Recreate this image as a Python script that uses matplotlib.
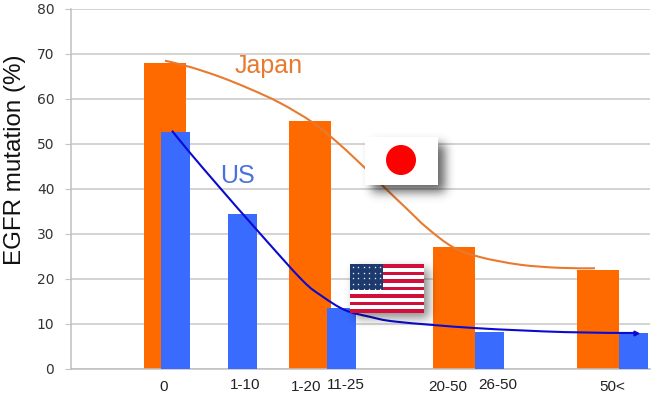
import numpy as np
import matplotlib
matplotlib.use('Agg')
import matplotlib.pyplot as plt
from matplotlib.path import Path
from matplotlib.patches import PathPatch, Rectangle, Circle

plt.rcParams['font.family'] = ['Liberation Sans', 'DejaVu Sans']

# values
japan_vals = [68, 55, 27, 22]
us_vals = [52.7, 34.3, 13.5, 8.2, 8]
japan_trend = [68.5, 67.1, 64.9, 62.2, 59.1, 54.7, 49.8, 44.6, 40.6, 35.5, 31.3, 27.0, 24.8, 23.1, 22.4, 22.3]
us_trend = [52.9, 48.0, 40.2, 30.8, 19.7, 16.1, 13.0, 11.5, 10.4, 9.0, 8.1, 7.9]
japan_cats = ['0', '1-20', '20-50', '50<']
us_cats = ['1-10', '11-25', '26-50']
y_ticks = [0, 10, 20, 30, 40, 50, 60, 70, 80]

# x axis runs in picture pixels, the groups are not evenly spaced
japan_x = [164.5, 309.5, 453.5, 598]
us_x = [175.5, 242.5, 341.5, 489, 633.5]
japan_trend_x = [165, 190, 220, 250, 280, 313, 340, 365, 383, 407, 427, 453, 480, 520, 560, 595]
us_trend_x = [172, 190, 220, 257, 302, 322, 345, 370, 397, 475, 565, 636]
japan_label_x = [164, 306, 448, 612]
us_label_x = [245, 346, 498]

ORANGE = '#ff6a00'
BLUE = '#3a6bff'
W, H = 655, 405


def smooth_path(xs, ys):
    # catmull-rom through the read points, drawn as bezier segments
    pts = np.column_stack([xs, ys])
    verts = [pts[0]]
    codes = [Path.MOVETO]
    for i in range(len(pts) - 1):
        p0 = pts[max(i - 1, 0)]
        p1 = pts[i]
        p2 = pts[i + 1]
        p3 = pts[min(i + 2, len(pts) - 1)]
        verts += [p1 + (p2 - p0) / 6, p2 - (p3 - p1) / 6, p2]
        codes += [Path.CURVE4] * 3
    return Path(verts, codes)


fig = plt.figure(figsize=(W / 100, H / 100), dpi=100)
ax = fig.add_axes([71 / W, 1 - 368.5 / H, 579 / W, 359.5 / H])
ax.set_xlim(71, 650)
ax.set_ylim(0, 80)

ax.bar(japan_x, japan_vals, width=42, color=ORANGE, zorder=2)
ax.bar(us_x, us_vals, width=29, color=BLUE, zorder=3)

ax.add_patch(PathPatch(smooth_path(japan_trend_x, japan_trend), fill=False,
                       edgecolor='#e87a30', lw=1.5, zorder=4))
ax.add_patch(PathPatch(smooth_path(us_trend_x, us_trend), fill=False,
                       edgecolor='#0a0ad0', lw=1.5, zorder=4))
ax.plot(us_trend_x[-1], us_trend[-1], marker='>', ms=3.5, color='#0a0ad0', zorder=4)

ax.set_yticks(y_ticks)
ax.set_yticklabels([str(t) for t in y_ticks], family='DejaVu Sans')
ax.set_xticks([])
ax.tick_params(axis='y', length=4, color='#c4c4c4', labelsize=10, pad=8, labelcolor='#333333')
ax.grid(axis='y', color='#c8c8c8', lw=1.1, zorder=1)
ax.set_axisbelow(True)
for s in ['top', 'right']:
    ax.spines[s].set_visible(False)
for s in ['left', 'bottom']:
    ax.spines[s].set_color('#c0c0c0')
    ax.spines[s].set_linewidth(1.1)

# overlay in picture pixels for labels and flags
ov = fig.add_axes([0, 0, 1, 1], zorder=5)
ov.patch.set_alpha(0)
ov.axis('off')

for x, lab in zip(japan_label_x, japan_cats):
    ov.text(x, 387, lab, ha='center', va='center', fontsize=11, color='#222222')
for x, lab in zip(us_label_x, us_cats):
    ov.text(x, 385, lab, ha='center', va='center', fontsize=11, color='#222222')

ov.text(15, 160, 'EGFR mutation (%)', rotation=90, ha='center', va='center',
        fontsize=17.4, color='#111111')
ov.text(269, 66, 'Japan', ha='center', va='center', fontsize=18, color='#e87a30')
ov.text(238, 176, 'US', ha='center', va='center', fontsize=18, color='#4a72dc')


def shadow(x, y, w, h, off, strength):
    # blurred drop shadow, box convolved with a gaussian
    pad = 20
    kern = np.exp(-0.5 * (np.arange(-15, 16) / 5.0) ** 2)
    kern /= kern.sum()
    bx = np.zeros(w + 2 * pad)
    bx[pad:pad + w] = 1
    by = np.zeros(h + 2 * pad)
    by[pad:pad + h] = 1
    alpha = np.outer(np.convolve(by, kern, 'same'), np.convolve(bx, kern, 'same'))
    rgba = np.zeros(alpha.shape + (4,))
    rgba[..., 3] = alpha * strength
    ov.imshow(rgba, extent=(x + off - pad, x + off + w + pad, y + off + h + pad, y + off - pad),
              aspect='auto', interpolation='bilinear', zorder=1)


# Japanese flag
shadow(365, 137, 73, 48, 7, 0.6)
ov.add_patch(Rectangle((365, 137), 73, 48, fc='white', ec='none', zorder=2))
ov.add_patch(Circle((401, 160), 15, fc='#ff0000', ec='none', zorder=3))

# US flag
fx, fy, fw, fh = 350, 264, 74, 49
shadow(fx, fy, fw, fh, 5, 0.45)
ov.add_patch(Rectangle((fx, fy), fw, fh, fc='white', ec='none', zorder=2))
sh = fh / 13
for i in range(0, 13, 2):
    ov.add_patch(Rectangle((fx, fy + i * sh), fw, sh, fc='#d0103a', ec='none', zorder=3))
ov.add_patch(Rectangle((fx, fy), 33, 7 * sh, fc='#1c3a6e', ec='none', zorder=4))
star_x, star_y = [], []
for r in range(5):
    for c in range(6):
        star_x.append(fx + 3 + c * 5.4)
        star_y.append(fy + 3 + r * 5.5)
ov.scatter(star_x, star_y, s=3, marker='*', color='white', linewidths=0, zorder=5)

ov.set_xlim(0, W)
ov.set_ylim(H, 0)

fig.savefig('out.png', dpi=100)
